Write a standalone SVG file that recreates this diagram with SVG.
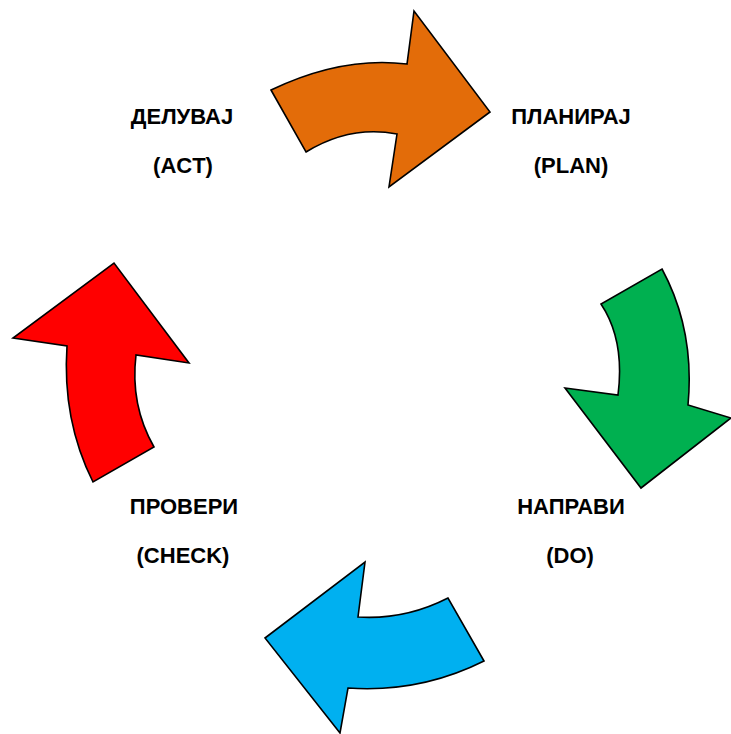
<svg xmlns="http://www.w3.org/2000/svg" width="731" height="734" viewBox="0 0 731 734">
  <style>
    .arrow { stroke: #000; stroke-width: 1.6; stroke-linejoin: miter; }
    .label { font-family: "Liberation Sans", Arial, sans-serif; font-weight: bold; font-size: 22px; fill: #000; text-anchor: middle; }
  </style>
  <rect width="731" height="734" fill="#fff"/>

  <!-- curved arrows of the cycle -->
  <g id="connectors">
    <path id="arrow-plan" class="arrow" fill="#E36C09"
          d="M271,90 Q342,56 407,64 L414,11 L490,112 L389,187 L397,134 Q350,125 306,152 Z"/>
    <path id="arrow-do" class="arrow" fill="#00B050"
          d="M662,269 Q695,330 688,405 L731,418 L641,488 L565,388 L618,395 Q625,340 601,304 Z"/>
    <path id="arrow-check" class="arrow" fill="#00B0F0"
          d="M448,598 Q405,620 358,617 L365,562 L265,638 L340,733 L348,688 Q420,693 484,661 Z"/>
    <path id="arrow-act" class="arrow" fill="#FF0000"
          d="M93,482 Q62,420 67,346 L13,338 L114,263 L189,363 L136,355 Q130,405 154,447 Z"/>
  </g>

  <g id="act">
    <text class="label" x="182" y="124">ДЕЛУВАЈ</text>
    <text class="label" x="183" y="173">(ACT)</text>
  </g>
  <g id="plan">
    <text class="label" x="571" y="124">ПЛАНИРАЈ</text>
    <text class="label" x="571" y="173">(PLAN)</text>
  </g>
  <g id="do">
    <text class="label" x="571" y="514">НАПРАВИ</text>
    <text class="label" x="570" y="563">(DO)</text>
  </g>
  <g id="check">
    <text class="label" x="184" y="514">ПРОВЕРИ</text>
    <text class="label" x="183" y="563">(CHECK)</text>
  </g>
</svg>
